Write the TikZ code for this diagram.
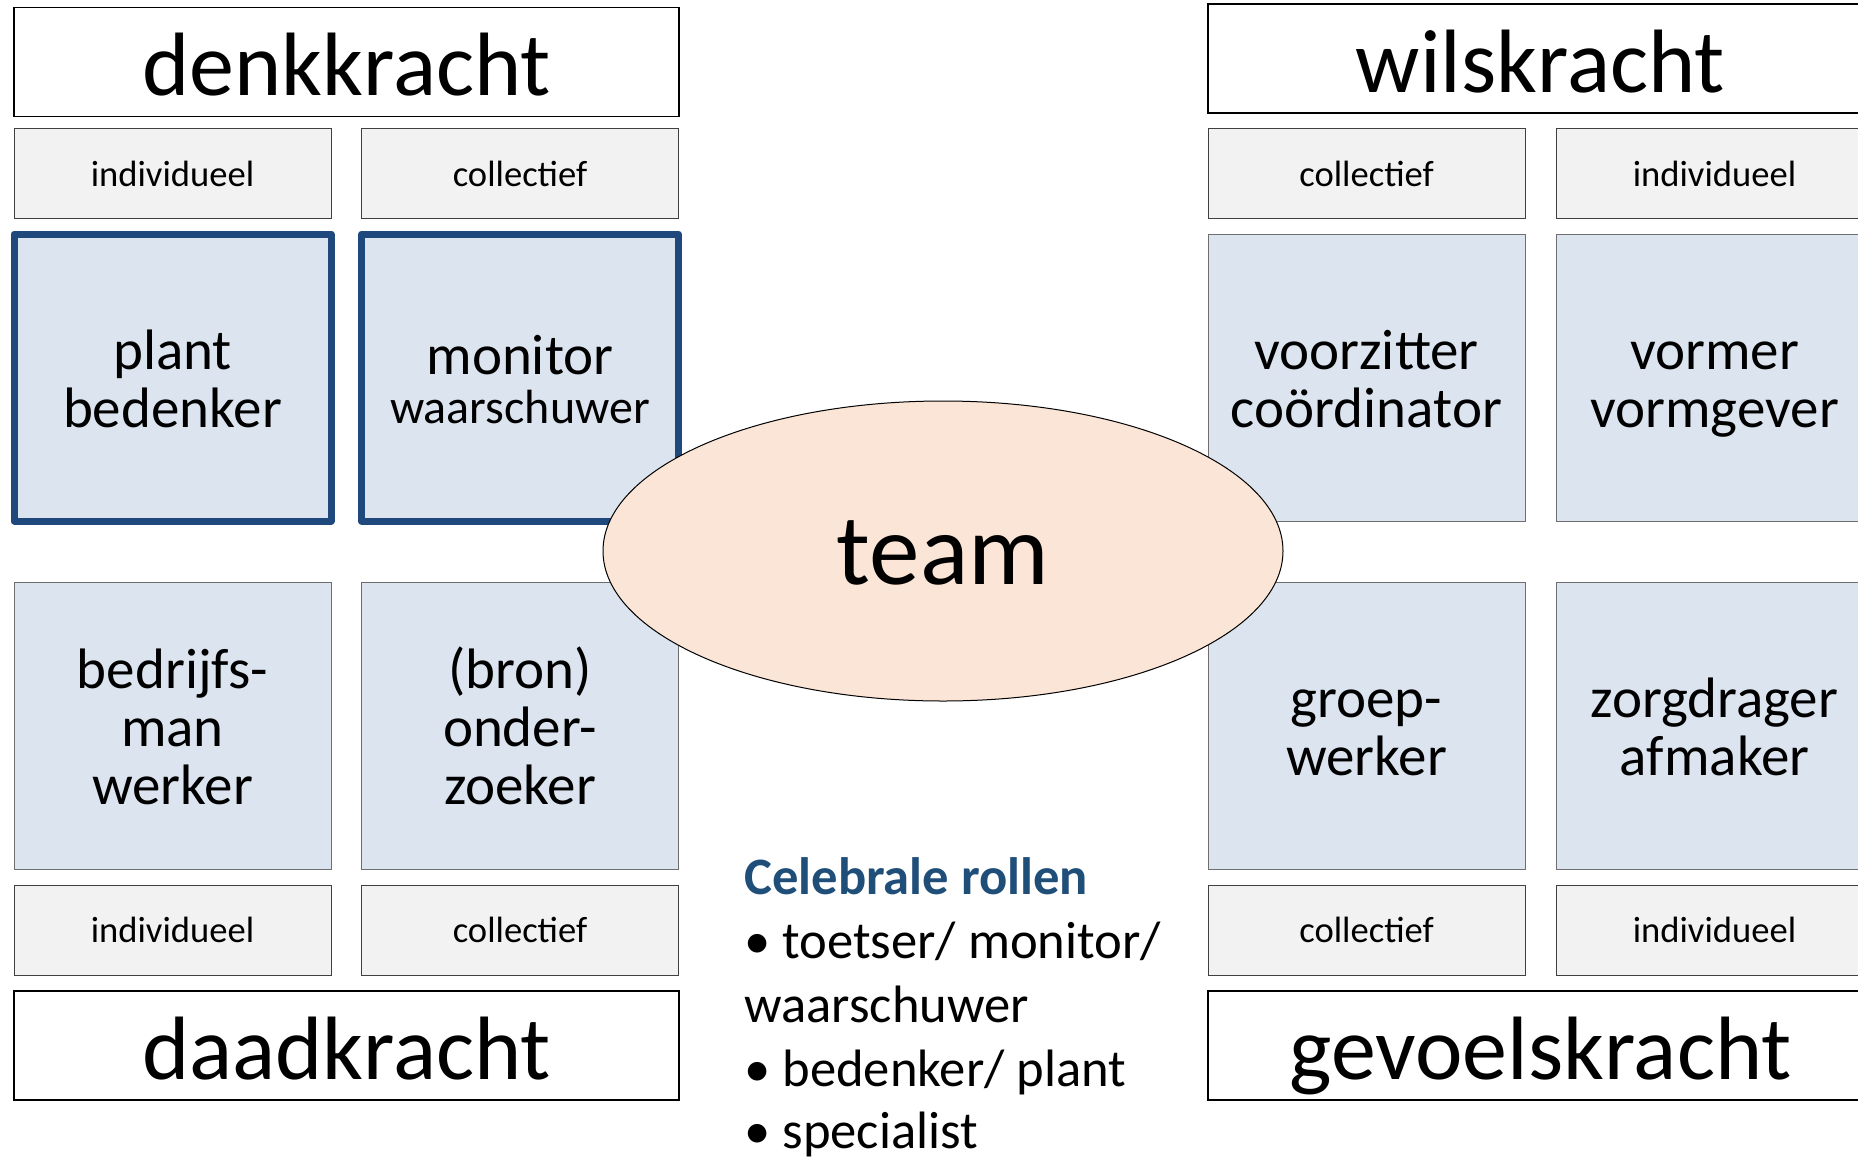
\documentclass[tikz,border=0pt]{standalone}
\usepackage{fontspec}
\setmainfont{Carlito}
\usetikzlibrary{shapes.geometric}

\definecolor{rolblauw}{RGB}{220,228,240}
\definecolor{labelgrijs}{RGB}{242,242,242}
\definecolor{randblauw}{RGB}{31,73,125}
\definecolor{randgrijs}{RGB}{110,110,110}
\definecolor{perzik}{RGB}{251,229,214}
\definecolor{kopblauw}{RGB}{31,78,121}

\begin{document}
\begin{tikzpicture}[x=0.5pt, y=-0.5pt,
    kracht/.style={draw=black, line width=0.9pt, fill=white, minimum width=332.5pt, minimum height=54.5pt, inner sep=0pt,
        font=\fontsize{45}{54}\selectfont, execute at begin node={\rule[-10pt]{0pt}{53.5pt}}},
    soort/.style={draw=black!75, line width=0.5pt, fill=labelgrijs, minimum width=158.5pt, minimum height=45pt, inner sep=0pt,
        font=\fontsize{18.3}{22}\selectfont},
    rol/.style={draw=randgrijs, line width=0.5pt, fill=rolblauw, minimum width=158.5pt, minimum height=143.5pt, inner sep=0pt,
        text width=150pt, align=center, font=\fontsize{28.5}{29}\selectfont,
        execute at begin node={\rule{0pt}{27pt}}, execute at end node={\rule[-6pt]{0pt}{6pt}}},
    denkrol/.style={rol, draw=randblauw, line width=3.5pt, line join=round},
    team/.style={ellipse, draw=black, line width=0.5pt, fill=perzik, minimum width=340pt, minimum height=150pt, inner sep=0pt,
        font=\fontsize{50.5}{60}\selectfont, execute at begin node={\rule[-5pt]{0pt}{43pt}}},
    lijst/.style={anchor=base west, inner sep=0pt, font=\fontsize{26.3}{32}\selectfont},
]
\useasboundingbox (0,0) rectangle (1858,1157);
\clip (0,0) rectangle (1858,1157);

% denkkracht
\node[kracht] (denk) at (346.5,62) {denkkracht};
\node[soort] (denkind) at (172.5,173.5) {individueel};
\node[soort] (denkcol) at (520,173.5) {collectief};
\node[denkrol] (plant) at (172.5,377.5) {plant\\bedenker};
\node[denkrol] (monitor) at (520,377.5) {monitor\\[-4.5pt]{\fontsize{24}{24.5}\selectfont waarschuwer}};

% daadkracht
\node[rol] (bedrijfsman) at (172.5,725.5) {bedrijfs-\\man\\werker};
\node[rol] (onderzoeker) at (520,725.5) {(bron)\\onder-\\zoeker};
\node[soort] (daadind) at (172.5,930) {individueel};
\node[soort] (daadcol) at (520,930) {collectief};
\node[kracht] (daad) at (346.5,1045.5) {daadkracht};

% wilskracht
\node[kracht] (wils) at (1540.5,58.5) {wilskracht};
\node[soort] (wilscol) at (1366.5,173.5) {collectief};
\node[soort] (wilsind) at (1714.5,173.5) {individueel};
\node[rol] (voorzitter) at (1366.5,377.5) {voorzitter\\coördinator};
\node[rol] (vormer) at (1714.5,377.5) {vormer\\vormgever};

% gevoelskracht
\node[rol] (groepswerker) at (1366.5,725.5) {groep-\\werker};
\node[rol] (zorgdrager) at (1714.5,725.5) {zorgdrager\\afmaker};
\node[soort] (gevoelcol) at (1366.5,930) {collectief};
\node[soort] (gevoelind) at (1714.5,930) {individueel};
\node[kracht] (gevoel) at (1540.5,1045.5) {gevoelskracht};

% midden
\node[team] (team) at (943,551) {team};

% celebrale rollen
\node[lijst, font={\fontsize{26.3}{32}\selectfont\bfseries}, text=kopblauw] (rollen) at (744,894) {Celebrale rollen};
\node[lijst] (toetser) at (744,958) {• toetser/ monitor/};
\node[lijst] (waarschuwer) at (744,1022) {waarschuwer};
\node[lijst] (bedenker) at (744,1086) {• bedenker/ plant};
\node[lijst] (specialist) at (744,1148) {• specialist};

\end{tikzpicture}
\end{document}
